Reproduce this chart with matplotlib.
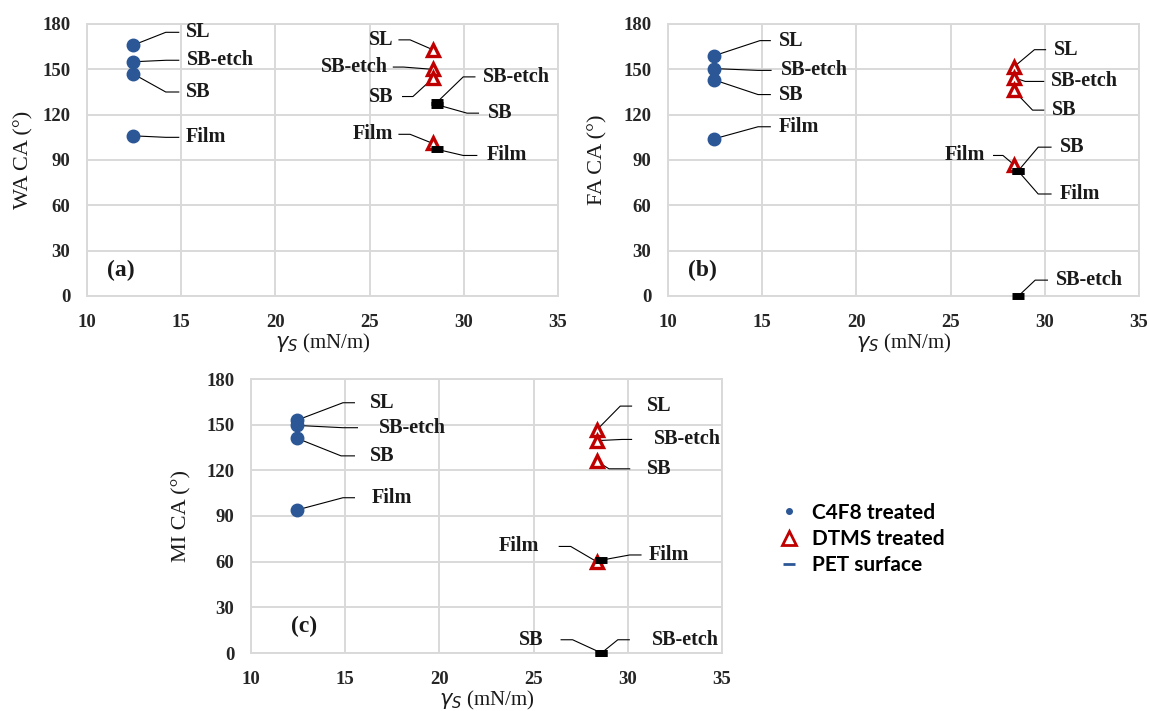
import matplotlib
matplotlib.use("Agg")
import matplotlib.pyplot as plt
from matplotlib.lines import Line2D

# surface energy of each coating (x position)
gamma_c4f8 = 12.45
gamma_dtms = 28.35
gamma_pet = 28.6

labels_c4f8 = ["SL", "SB-etch", "SB", "Film"]
labels_dtms = ["SL", "SB-etch", "SB", "Film"]

# (a) water contact angle
wa_c4f8 = [166, 155, 147, 106]
wa_dtms = [163, 150, 144, 101]
wa_pet_labels = ["SB-etch", "SB", "Film"]
wa_pet = [128.5, 126.5, 97]

# (b) formamide contact angle
fa_c4f8 = [159, 150.5, 143, 104]
fa_dtms = [151.5, 144.5, 136, 87]
fa_pet_labels = ["SB-etch", "SB", "Film"]
fa_pet = [0, 83, 82.5]

# (c) methylene iodide contact angle
mi_c4f8 = [153, 149.5, 141, 94]
mi_dtms = [146.5, 139.5, 126, 60]
mi_pet_labels = ["SB", "SB-etch", "Film"]
mi_pet = [0, 0, 61]

blue = "#2b5797"
red = "#c00000"
grid = "#d9d9d9"
serif = "Liberation Serif"

# leader layout per label: elbow x, elbow y, end of horizontal, text x
lay_a = {
    ("c", "SL"): (14.18, 174.5, 14.87, 15.25),
    ("c", "SB-etch"): (14.2, 156, 14.87, 15.3),
    ("c", "SB"): (14.18, 135, 14.87, 15.25),
    ("c", "Film"): (14.18, 105, 14.87, 15.25),
    ("d", "SL"): (27.15, 169.5, 26.56, 26.25),
    ("d", "SB-etch"): (26.8, 151.5, 26.26, 25.95),
    ("d", "SB"): (27.3, 132, 26.75, 26.25),
    ("d", "Film"): (27.15, 107, 26.56, 26.25),
    ("p", "SB-etch"): (29.97, 145, 30.59, 31.0),
    ("p", "SB"): (30.17, 121, 30.78, 31.3),
    ("p", "Film"): (29.97, 93, 30.69, 31.2),
}
lay_b = {
    ("c", "SL"): (14.88, 169, 15.43, 15.9),
    ("c", "SB-etch"): (14.78, 149.3, 15.47, 16.0),
    ("c", "SB"): (14.78, 133.3, 15.43, 15.9),
    ("c", "Film"): (14.78, 112, 15.43, 15.9),
    ("d", "SL"): (29.45, 163, 30.04, 30.5),
    ("d", "SB-etch"): (28.96, 142, 29.94, 30.33),
    ("d", "SB"): (29.35, 123, 29.94, 30.4),
    ("d", "Film"): (27.78, 93, 27.28, 26.85),
    ("p", "SB"): (29.65, 98.5, 30.33, 30.8),
    ("p", "Film"): (29.65, 67.5, 30.33, 30.8),
    ("p", "SB-etch"): (29.49, 10.5, 30.14, 30.6),
}
lay_c = {
    ("c", "SL"): (14.88, 164.4, 15.49, 16.3),
    ("c", "SB-etch"): (14.88, 148, 15.65, 16.8),
    ("c", "SB"): (14.78, 129.5, 15.49, 16.3),
    ("c", "Film"): (14.88, 102, 15.49, 16.4),
    ("d", "SL"): (29.6, 162.2, 30.2, 31.0),
    ("d", "SB-etch"): (29.7, 140.3, 30.2, 31.4),
    ("d", "SB"): (29.0, 121, 30.1, 31.0),
    ("d", "Film"): (26.97, 70, 26.36, 25.3),
    ("p", "Film"): (30.1, 64.4, 30.7, 31.1),
    ("p", "SB"): (27.07, 8.7, 26.46, 25.5),
    ("p", "SB-etch"): (29.47, 8.7, 30.08, 31.3),
}


def leader(ax, x, y, lay, text):
    ex, ey, hx, tx = lay
    ax.plot([x, ex, hx], [y, ey, ey], color="black", lw=0.8, zorder=2, clip_on=False)
    ha = "left" if tx > hx else "right"
    ax.text(tx, ey, text, ha=ha, va="center", fontsize=14.5, family=serif,
            fontweight="bold", color="#1a1a1a")


def panel(ax, c4f8, dtms, pet_labels, pet, lay, ylabel, tag, tagpos):
    ax.set_xlim(10, 35)
    ax.set_ylim(0, 180)
    ax.set_xticks(range(10, 36, 5))
    ax.set_yticks(range(0, 181, 30))
    ax.grid(True, color=grid, lw=1.4)
    ax.set_axisbelow(True)
    for s in ax.spines.values():
        s.set_color(grid)
        s.set_linewidth(1.4)
    ax.tick_params(length=0, labelsize=13.5, labelcolor="#262626")
    ax.tick_params(axis="x", pad=13)
    ax.tick_params(axis="y", pad=12)
    for lab in ax.get_xticklabels() + ax.get_yticklabels():
        lab.set_family(serif)
        lab.set_fontweight("bold")

    ax.plot([gamma_c4f8] * len(c4f8), c4f8, ls="", marker="o", ms=9,
            color=blue, zorder=3, clip_on=False)
    ax.plot([gamma_dtms] * len(dtms), dtms, ls="", marker="^", ms=8.5,
            mfc="white", mec=red, mew=2.4, zorder=3, clip_on=False)
    ax.plot([gamma_pet] * len(pet), pet, ls="", marker="_", ms=8,
            mew=5, color="black", zorder=4, clip_on=False)

    for lab, v in zip(labels_c4f8, c4f8):
        leader(ax, gamma_c4f8, v, lay[("c", lab)], lab)
    for lab, v in zip(labels_dtms, dtms):
        leader(ax, gamma_dtms, v, lay[("d", lab)], lab)
    for lab, v in zip(pet_labels, pet):
        leader(ax, gamma_pet, v, lay[("p", lab)], lab)

    ax.text(tagpos[0], tagpos[1], tag, ha="center", va="center", fontsize=17,
            family=serif, fontweight="bold", color="#1a1a1a")
    ax.set_xlabel(r"$\gamma_S$ (mN/m)", fontsize=15, family=serif,
                  color="#1a1a1a", va="center")
    ax.set_ylabel(ylabel, fontsize=16, family=serif,
                  color="#1a1a1a", va="center")


fig = plt.figure(figsize=(11.5, 7.11), dpi=100)
W, H = 1150, 711
ax_a = fig.add_axes([87 / W, 1 - 296 / H, 471 / W, 272 / H])
ax_b = fig.add_axes([668 / W, 1 - 296 / H, 471 / W, 272 / H])
ax_c = fig.add_axes([251 / W, 1 - 653 / H, 471 / W, 274 / H])

panel(ax_a, wa_c4f8, wa_dtms, wa_pet_labels, wa_pet, lay_a, "WA CA (°)", "(a)", (11.8, 16.8))
panel(ax_b, fa_c4f8, fa_dtms, fa_pet_labels, fa_pet, lay_b, "FA CA (°)", "(b)", (11.85, 17))
panel(ax_c, mi_c4f8, mi_dtms, mi_pet_labels, mi_pet, lay_c, "MI CA (°)", "(c)", (12.8, 17.3))
ax_a.xaxis.set_label_coords(0.5, -47 / 272)
ax_b.xaxis.set_label_coords(0.5, -47 / 272)
ax_c.xaxis.set_label_coords(0.5, -47 / 274)
ax_a.yaxis.set_label_coords(-63 / 471, 0.5)
ax_b.yaxis.set_label_coords(-70 / 471, 0.5)
ax_c.yaxis.set_label_coords(-69 / 471, 0.5)

handles = [
    Line2D([], [], ls="", marker="o", ms=4, color=blue),
    Line2D([], [], ls="", marker="^", ms=10, mfc="white", mec=red, mew=2),
    Line2D([], [], ls="", marker="_", ms=9, mew=2, color=blue),
]
fig.legend(handles, ["C4F8 treated", "DTMS treated", "PET surface"],
           loc="upper left", bbox_to_anchor=(758 / W, 1 - 484 / H), frameon=False,
           prop={"family": "Lato", "weight": "bold", "size": 15},
           handletextpad=0.5, labelspacing=0.3, handlelength=1.2)

fig.savefig("out.png", dpi=100)
